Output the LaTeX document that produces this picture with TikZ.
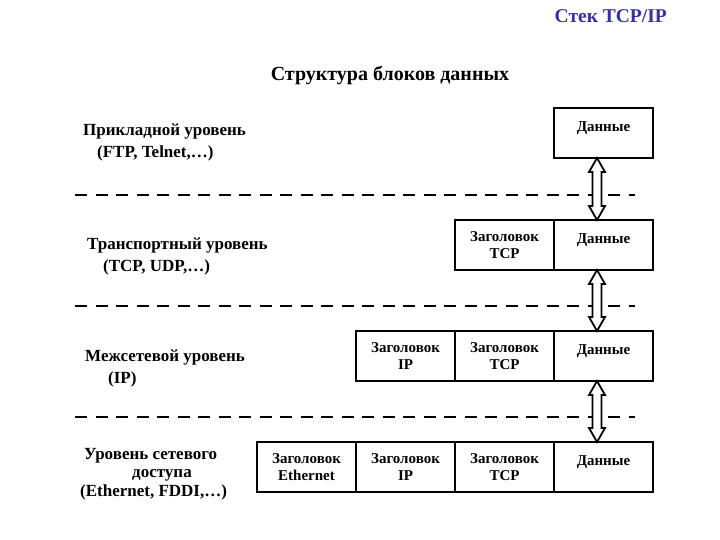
\documentclass[tikz,border=0pt]{standalone}
\usepackage{fontspec}
\setmainfont{Liberation Serif}
\usepackage{xcolor}
\usetikzlibrary{positioning, calc}

\definecolor{stackblue}{RGB}{51,51,153}

% double-headed hollow arrow between two stacked blocks
\newcommand{\updown}[2]{%
  \coordinate (ua) at ($(#1.south)+(-6.5,0)$);
  \coordinate (ub) at ($(#2.north)+(-6.5,0)$);
  \draw[hollow] (ua) -- ++(8,14) -- ++(-3.5,0) -- ($(ub)+(4.5,-14)$) -- ++(3.5,0)
    -- (ub) -- ++(-8,-14) -- ++(3.5,0) -- ($(ua)+(-4.5,14)$) -- ++(-3.5,0) -- cycle;
}

\begin{document}
\begin{tikzpicture}[
    x=1pt, y=-1pt,
    cell/.style={rectangle, draw, line width=1.6pt, outer sep=0pt, inner sep=0pt,
      minimum width=99pt, minimum height=50pt, align=center,
      font=\fontsize{15}{17}\selectfont\bfseries},
    data/.style={cell, text depth=13pt},
    layer/.style={anchor=west, align=left, inner sep=0pt,
      font=\fontsize{17}{22}\selectfont\bfseries},
    sep/.style={dashed, dash pattern=on 12pt off 8.5pt, line width=2.6pt},
    hollow/.style={draw, fill=white, line width=1.8pt, line join=miter}
]
\useasboundingbox (0,0) rectangle (720,540);

% titles
\node[anchor=east, inner sep=0pt, text=stackblue, font=\fontsize{19.5}{22}\selectfont\bfseries] (stack) at (667,16) {Стек TCP/IP};
\node[font=\fontsize{20}{22}\selectfont\bfseries] (caption) at (390,76) {Структура блоков данных};

% layer names
\node[layer] (app) at (83,142) {Прикладной уровень\\\hspace{14pt}(FTP, Telnet,…)};
\node[layer] (trans) at (87,256) {Транспортный уровень\\\hspace{16pt}(TCP, UDP,…)};
\node[layer] (inet) at (85,368) {Межсетевой уровень\\\hspace{23pt}(IP)};
\node[layer, font=\fontsize{17}{18.5}\selectfont\bfseries] (link) at (80,474)
  {\hspace{4pt}Уровень сетевого\\\hspace{52pt}доступа\\(Ethernet, FDDI,…)};

% separators
\draw[sep] (75,195) -- (635,195);
\draw[sep] (75,306) -- (635,306);
\draw[sep] (75,417) -- (635,417);

% application level
\node[data] (d1) at (603.5,133) {Данные};

% transport level
\node[data] (d2) at (603.5,245) {Данные};
\node[cell, left=0pt of d2] (tcp2) {Заголовок\\TCP};

% internet level
\node[data] (d3) at (603.5,356) {Данные};
\node[cell, left=0pt of d3] (tcp3) {Заголовок\\TCP};
\node[cell, left=0pt of tcp3] (ip3) {Заголовок\\IP};

% network access level
\node[data] (d4) at (603.5,467) {Данные};
\node[cell, left=0pt of d4] (tcp4) {Заголовок\\TCP};
\node[cell, left=0pt of tcp4] (ip4) {Заголовок\\IP};
\node[cell, left=0pt of ip4] (eth4) {Заголовок\\Ethernet};

% arrows between levels
\updown{d1}{d2}
\updown{d2}{d3}
\updown{d3}{d4}

\end{tikzpicture}
\end{document}
